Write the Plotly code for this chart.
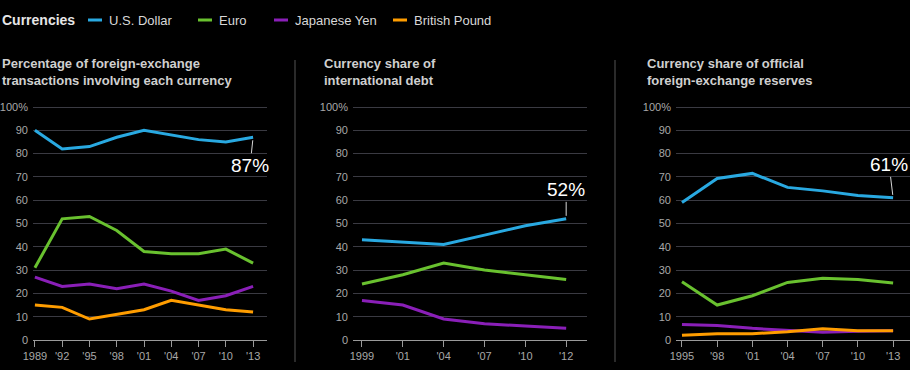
import plotly.graph_objects as go

# ---------------- data ----------------
currencies = ["U.S. Dollar", "Euro", "Japanese Yen", "British Pound"]
colors = ["#29a9e1", "#69c12f", "#8a1fb8", "#ff9d00"]

p1_title = "Percentage of foreign-exchange<br>transactions involving each currency"
p1_labels = ["1989", "'92", "'95", "'98", "'01", "'04", "'07", "'10", "'13"]
p1_usd = [90, 82, 83, 87, 90, 88, 86, 85, 87]
p1_eur = [31, 52, 53, 47, 38, 37, 37, 39, 33]
p1_jpy = [27, 23, 24, 22, 24, 21, 17, 19, 23]
p1_gbp = [15, 14, 9, 11, 13, 17, 15, 13, 12]

p2_title = "Currency share of<br>international debt"
p2_labels = ["1999", "'01", "'04", "'07", "'10", "'12"]
p2_usd = [43, 42, 41, 45, 49, 52]
p2_eur = [24, 28, 33, 30, 28, 26]
p2_jpy = [17, 15, 9, 7, 6, 5]

p3_title = "Currency share of official<br>foreign-exchange reserves"
p3_labels = ["1995", "'98", "'01", "'04", "'07", "'10", "'13"]
p3_usd = [59, 69.3, 71.5, 65.5, 64, 62, 61]
p3_eur = [25, 15, 19, 24.7, 26.5, 26, 24.5]
p3_jpy = [6.7, 6.2, 5.0, 4.3, 3.3, 3.8, 4.0]
p3_gbp = [2.0, 2.7, 2.7, 3.5, 4.8, 4.0, 4.0]

y_tickvals = [0, 10, 20, 30, 40, 50, 60, 70, 80, 90, 100]
y_ticktext = ["0", "10", "20", "30", "40", "50", "60", "70", "80", "90", "100%"]

# ---------------- layout constants ----------------
W, H = 910, 370
FONT = "Liberation Sans, Arial, sans-serif"
GRID = "#3a3a42"
BASE = "#9a9a9a"
TICKC = "#a8a8a8"
TITLEC = "#cfcfcf"

def px_x(p):
    return p / W

def px_y(p):
    return 1 - p / H

panels = [
    dict(labels=p1_labels, series=[p1_usd, p1_eur, p1_jpy, p1_gbp], title=p1_title,
         left=33, right=267, rng=[-0.07, 8.51], title_x=0, ann=(-3, 28)),
    dict(labels=p2_labels, series=[p2_usd, p2_eur, p2_jpy, None], title=p2_title,
         left=353, right=587, rng=[-0.22, 5.51], title_x=322, ann=(0, -29)),
    dict(labels=p3_labels, series=[p3_usd, p3_eur, p3_jpy, p3_gbp], title=p3_title,
         left=676, right=910, rng=[-0.17, 6.48], title_x=645, ann=(-4, -33)),
]

fig = go.Figure()
Y_TOP = 102
y_dom = [px_y(340), px_y(340 - 233 * Y_TOP / 100)]
annotations = []
shapes = []

for i, p in enumerate(panels):
    n = i + 1
    xa = "x" if n == 1 else f"x{n}"
    ya = "y" if n == 1 else f"y{n}"
    xs = list(range(len(p["labels"])))
    for name, col, vals in zip(currencies, colors, p["series"]):
        if vals is None:
            continue
        fig.add_trace(go.Scatter(x=xs, y=vals, mode="lines", name=name,
                                 line=dict(color=col, width=3),
                                 xaxis=xa, yaxis=ya, showlegend=False,
                                 hoverinfo="skip"))
    xkey = "xaxis" if n == 1 else f"xaxis{n}"
    ykey = "yaxis" if n == 1 else f"yaxis{n}"
    fig.update_layout({
        xkey: dict(domain=[px_x(p["left"]), px_x(p["right"])], range=p["rng"],
                   anchor=ya, tickvals=xs, ticktext=p["labels"], automargin=False,
                   showgrid=False, zeroline=False, showline=True,
                   linecolor=BASE, linewidth=1, ticks="outside", ticklen=6,
                   tickcolor=BASE, tickwidth=1,
                   tickfont=dict(family=FONT, size=11, color=TICKC)),
        ykey: dict(domain=y_dom, range=[0, Y_TOP], anchor=xa, automargin=False,
                   tickvals=y_tickvals, ticktext=y_ticktext,
                   showgrid=True, gridcolor=GRID, gridwidth=1,
                   zeroline=False, showline=False, ticks="",
                   ticklabelstandoff=4,
                   tickfont=dict(family=FONT, size=11, color=TICKC)),
    })
    # panel title
    annotations.append(dict(text=f"<b>{p['title']}</b>", x=px_x(p["title_x"]), y=px_y(54),
                            xref="paper", yref="paper", xanchor="left", yanchor="top",
                            align="left", showarrow=False,
                            font=dict(family=FONT, size=13, color=TITLEC)))
    # callout on last USD value
    usd = p["series"][0]
    annotations.append(dict(text=f"{usd[-1]:g}%", x=xs[-1], y=usd[-1], xref=xa, yref=ya,
                            showarrow=True, arrowhead=0, arrowwidth=1, arrowcolor="#d8d8d8",
                            ax=p["ann"][0], ay=p["ann"][1], standoff=3,
                            font=dict(family=FONT, size=19, color="#ffffff")))

# separators between panels
for sx in (295, 615):
    shapes.append(dict(type="line", xref="paper", yref="paper",
                       x0=px_x(sx), x1=px_x(sx), y0=px_y(60), y1=px_y(362),
                       line=dict(color="#555555", width=1)))

# legend (manual, top row)
annotations.append(dict(text="<b>Currencies</b>", x=0, y=px_y(20), xref="paper", yref="paper",
                        xanchor="left", yanchor="middle", showarrow=False,
                        font=dict(family=FONT, size=14, color="#e6e6e6")))
legend_x = [88, 198, 274, 393]
for name, col, lx in zip(currencies, colors, legend_x):
    shapes.append(dict(type="line", xref="paper", yref="paper",
                       x0=px_x(lx), x1=px_x(lx + 14), y0=px_y(20), y1=px_y(20),
                       line=dict(color=col, width=3)))
    annotations.append(dict(text=name, x=px_x(lx + 19), y=px_y(20), xref="paper", yref="paper",
                            xanchor="left", yanchor="middle", showarrow=False,
                            font=dict(family=FONT, size=13, color="#d8d8d8")))

fig.update_layout(width=W, height=H, margin=dict(l=0, r=0, t=0, b=0, autoexpand=False),
                  paper_bgcolor="#000000", plot_bgcolor="#000000",
                  showlegend=False, annotations=annotations, shapes=shapes)

fig.write_html("out.html", config={"displayModeBar": False, "staticPlot": True},
               post_script="document.body.style.margin='0';"
                           "document.body.style.background='#000';"
                           "document.body.style.overflow='hidden';")
